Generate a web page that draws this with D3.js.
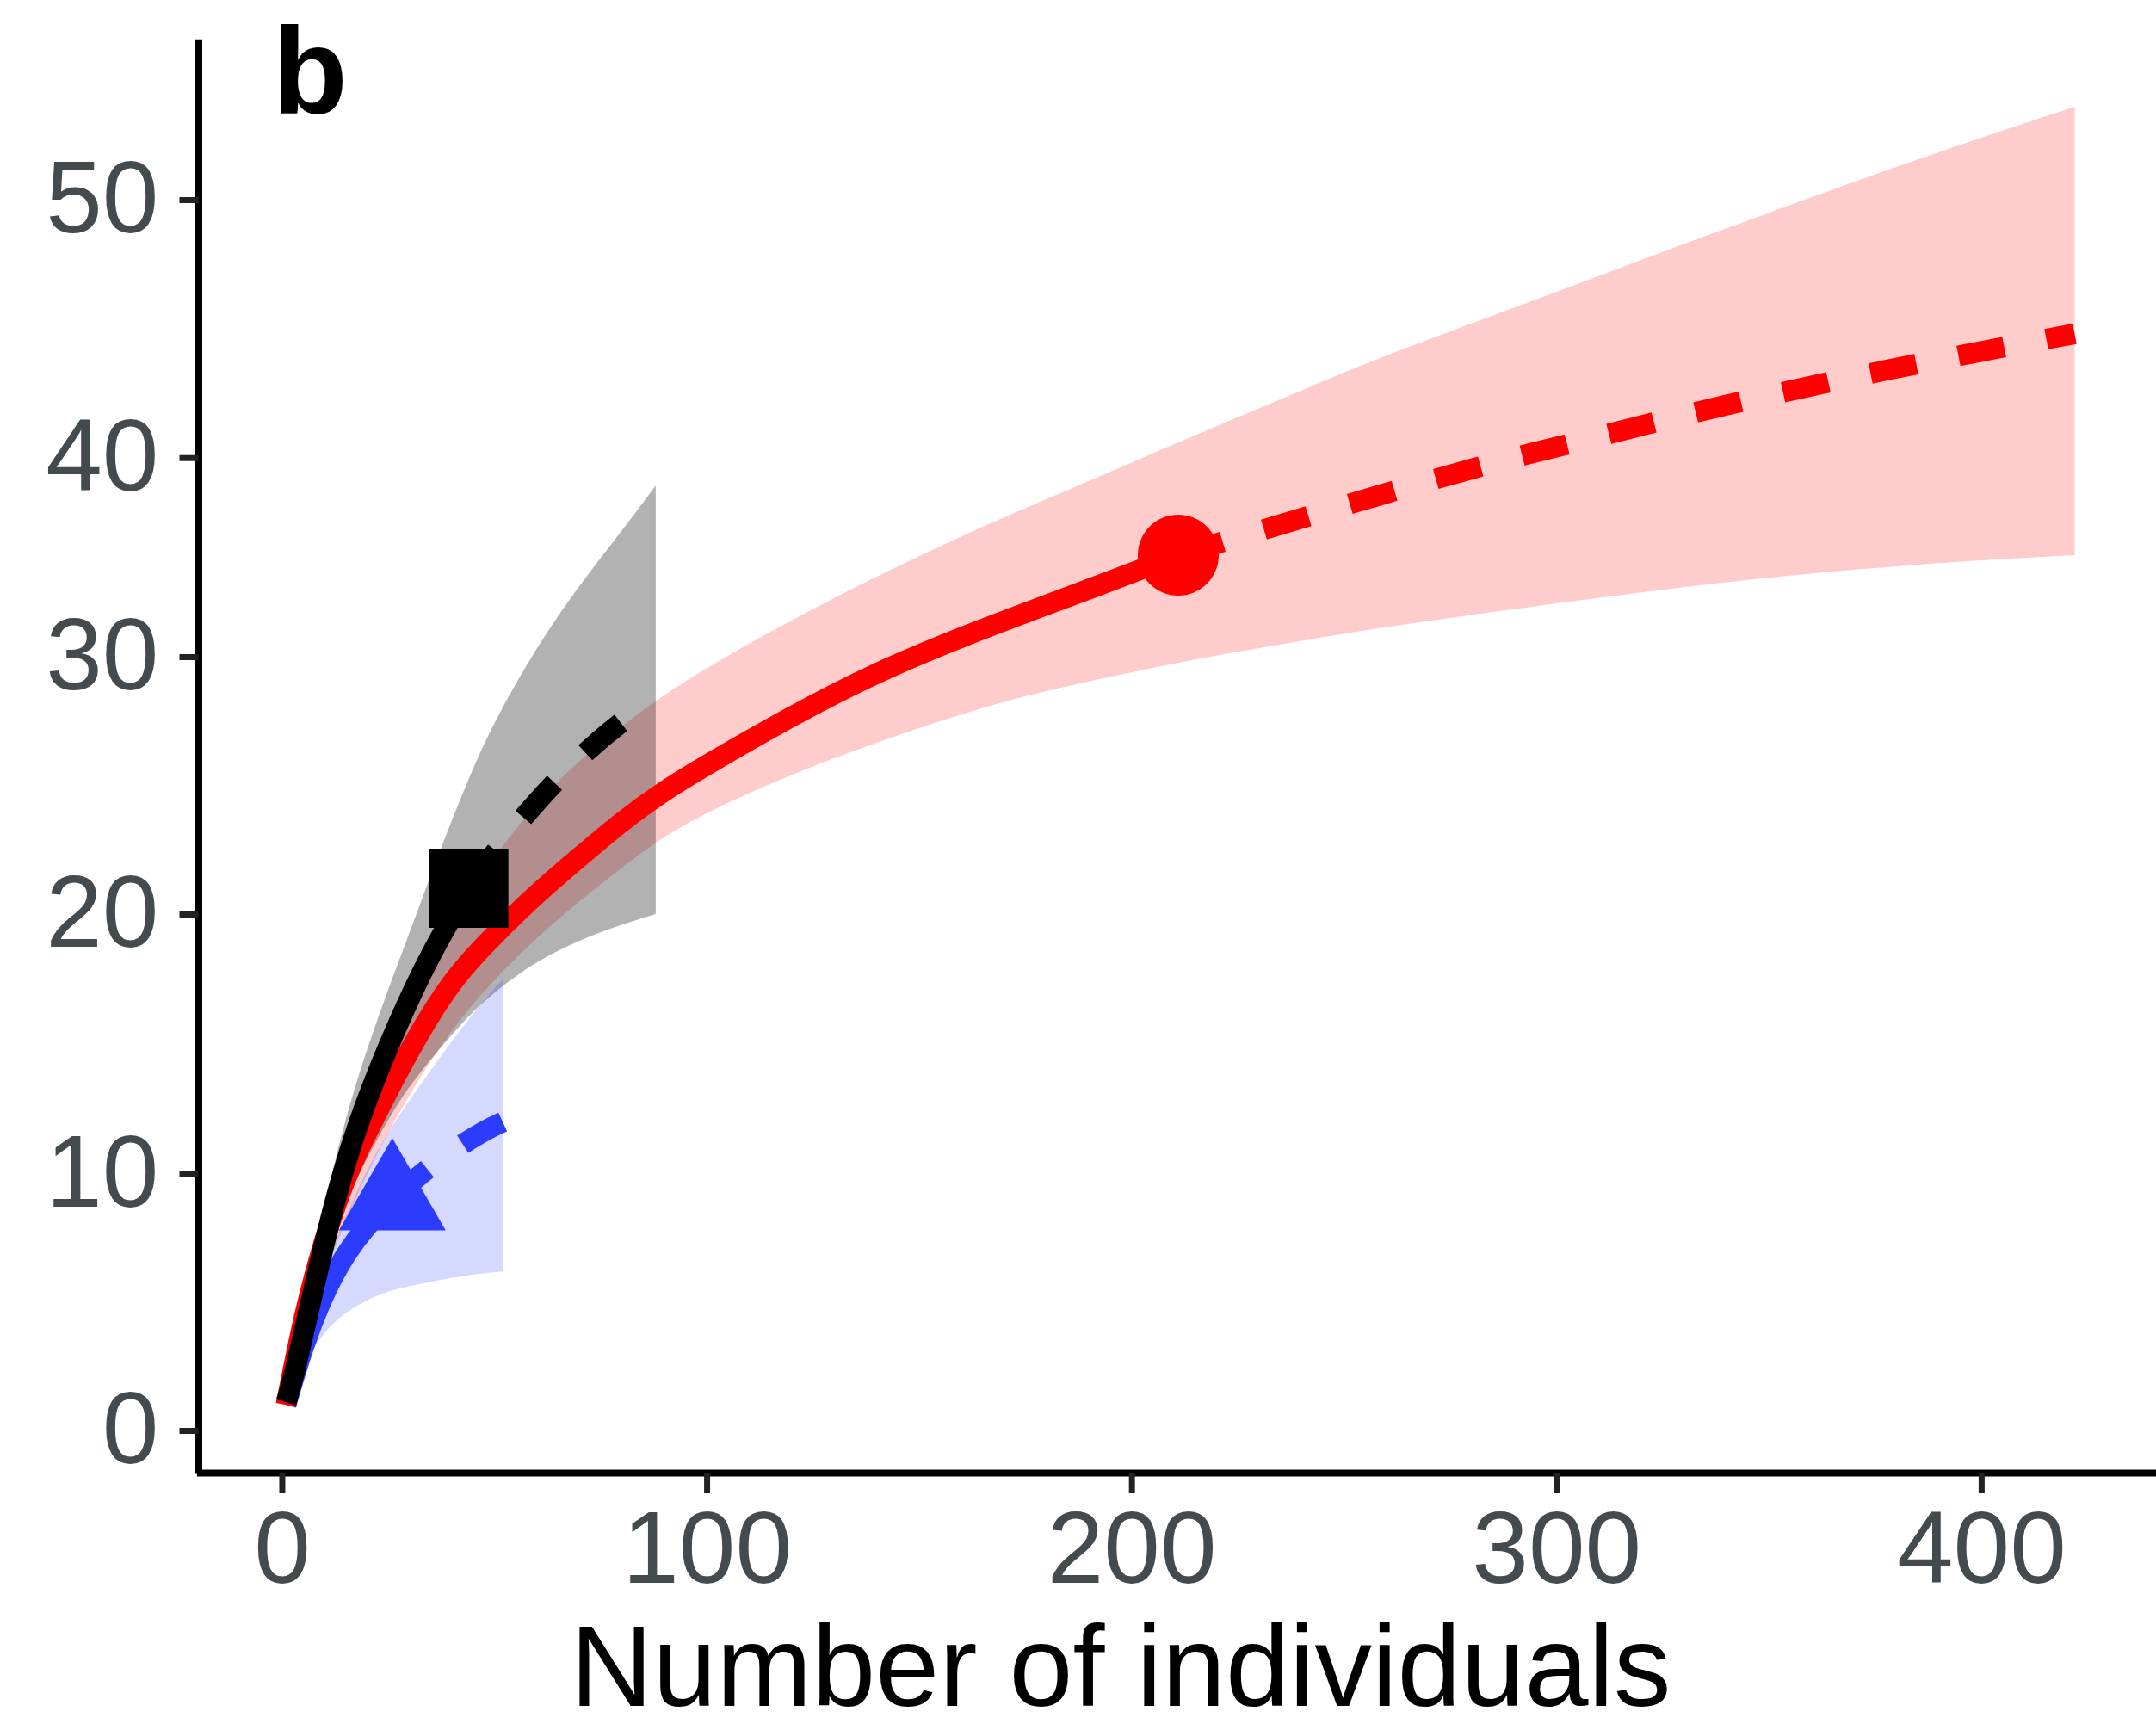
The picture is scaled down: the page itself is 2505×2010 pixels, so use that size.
<!DOCTYPE html>
<html>
<head>
<meta charset="utf-8">
<script src="https://cdn.jsdelivr.net/npm/d3@7/dist/d3.min.js"></script>
<style>
  body { margin: 0; background: #fff; }
  text { font-family: "Liberation Sans", Arial, sans-serif; }
</style>
</head>
<body>
<script>
// red assemblage: rarefied part (solid) and extrapolated part (dashed)
var redObsN = [1, 5, 10, 15, 20, 30, 40, 50, 60, 70, 80, 90, 100, 120, 140, 160, 180, 200, 211];
var redObsS = [1.0, 4.4, 7.5, 9.9, 11.6, 14.8, 17.5, 19.2, 20.8, 22.2, 23.6, 24.8, 25.8, 27.7, 29.4, 31.0, 32.6, 34.2, 35.1];
var redExtN = [211, 222, 250, 284, 300, 338, 380, 422];
var redExtS = [35.1, 35.8, 37.6, 39.7, 40.4, 42.0, 43.5, 44.8];
var redBandN = [1, 5, 10, 20, 30, 40, 50, 60, 70, 80, 88, 100, 128, 160, 180, 211, 240, 257, 290, 322, 350, 387, 422];
var redLo = [1.0, 3.6, 6.2, 10.1, 13.1, 15.6, 17.5, 19.1, 20.5, 21.8, 22.8, 24.0, 26.0, 27.8, 28.7, 29.8, 30.8, 31.4, 32.4, 33.3, 34.0, 34.7, 35.1];
var redHi = [1.0, 5.2, 8.8, 13.4, 17.0, 19.8, 22.3, 24.3, 26.0, 27.3, 28.3, 29.6, 32.8, 36.1, 37.9, 40.6, 42.6, 43.8, 45.8, 47.8, 49.5, 51.7, 53.6];

// black assemblage
var blackObsN = [1, 3, 7, 13, 19, 27, 35, 44];
var blackObsS = [1.1, 2.2, 5.2, 9.4, 12.5, 15.7, 18.5, 21.0];
var blackExtN = [44, 50, 60, 70, 80, 88];
var blackExtS = [21.0, 22.4, 24.4, 26.1, 27.5, 28.4];
var blackBandN = [1, 5, 10, 15, 20, 25, 30, 37, 44, 50, 60, 70, 80, 88];
var blackLo = [1.0, 3.8, 6.8, 8.9, 10.6, 12.1, 13.4, 14.8, 16.1, 17.0, 18.2, 19.0, 19.6, 20.0];
var blackHi = [1.2, 4.6, 8.8, 12.2, 14.8, 17.1, 19.25, 22.4, 25.3, 27.5, 30.5, 33.6, 36.3, 38.6];

// blue assemblage
var blueObsN = [1, 5, 10, 15, 20, 26];
var blueObsS = [1.0, 3.3, 5.4, 6.9, 8.0, 9.0];
var blueExtN = [26, 34, 42, 48, 52];
var blueExtS = [9.0, 10.2, 11.1, 11.7, 12.0];
var blueBandN = [1, 5, 9, 13, 20, 26, 35, 45, 52];
var blueLo = [1.0, 2.6, 3.6, 4.4, 5.1, 5.5, 5.8, 6.1, 6.2];
var blueHi = [1.0, 4.0, 5.9, 7.6, 10.2, 11.9, 14.0, 16.2, 17.5];

var xTicks = [0, 100, 200, 300, 400];
var yTicks = [0, 10, 20, 30, 40, 50];

var red = "#ff0000", black = "#000000", blue = "#2b3cff";

var svg = d3.select("body")
            .append("svg")
            .attr("width", 2505)
            .attr("height", 2010);

var xScale = d3.scaleLinear().domain([-20.05, 443.05]).range([228.5, 2514.4]);
// the y axis of the source image is not evenly spaced, so use a piecewise scale
var yScale = d3.scaleLinear()
               .domain([-1.63, 0, 10, 20, 30, 40, 50, 56.23])
               .range([1711, 1662, 1364, 1062, 763, 531.7, 232, 45.3]);

var line = d3.line()
             .x(function(d) { return xScale(d[0]); })
             .y(function(d) { return yScale(d[1]); })
             .curve(d3.curveBasis);

var band = d3.area()
             .x(function(d) { return xScale(d[0]); })
             .y0(function(d) { return yScale(d[1]); })
             .y1(function(d) { return yScale(d[2]); })
             .curve(d3.curveBasis);

// confidence bands
svg.append("path").attr("d", band(d3.zip(redBandN, redLo, redHi)))
   .attr("fill", red).attr("fill-opacity", 0.2);
svg.append("path").attr("d", band(d3.zip(blackBandN, blackLo, blackHi)))
   .attr("fill", black).attr("fill-opacity", 0.3);
svg.append("path").attr("d", band(d3.zip(blueBandN, blueLo, blueHi)))
   .attr("fill", blue).attr("fill-opacity", 0.2);

function curve(n, s, col, dashed) {
  svg.append("path")
     .attr("d", line(d3.zip(n, s)))
     .attr("fill", "none")
     .attr("stroke", col)
     .attr("stroke-width", 24)
     .attr("stroke-linecap", "butt")
     .attr("stroke-dasharray", dashed ? "54,50" : null);
}

curve(blueObsN, blueObsS, blue, false);
curve(blueExtN, blueExtS, blue, true);
curve(redObsN, redObsS, red, false);
curve(redExtN, redExtS, red, true);
curve(blackObsN, blackObsS, black, false);
curve(blackExtN, blackExtS, black, true);

// observed sample points
function marker(n, s, type, size, col) {
  svg.append("path")
     .attr("d", d3.symbol().type(type).size(size)())
     .attr("transform", "translate(" + xScale(n) + "," + yScale(s) + ")")
     .attr("fill", col);
}
marker(blueObsN[blueObsN.length - 1], blueObsS[blueObsS.length - 1], d3.symbolTriangle, 6658, blue);
marker(redObsN[redObsN.length - 1], redObsS[redObsS.length - 1], d3.symbolCircle, 6940, red);
marker(blackObsN[blackObsN.length - 1], blackObsS[blackObsS.length - 1], d3.symbolSquare, 8464, black);

// axes
var xAxis = svg.append("g")
               .attr("transform", "translate(0," + 1711 + ")")
               .call(d3.axisBottom(xScale).tickValues(xTicks).tickSize(24).tickSizeOuter(0).tickPadding(20));
var yAxis = svg.append("g")
               .attr("transform", "translate(" + 230.5 + ",0)")
               .call(d3.axisLeft(yScale).tickValues(yTicks).tickSize(22).tickSizeOuter(0).tickPadding(24));

[xAxis, yAxis].forEach(function(a) {
  a.select(".domain").attr("stroke", "#000").attr("stroke-width", 8);
  a.selectAll(".tick line").attr("stroke", "#222").attr("stroke-width", 7);
  a.selectAll(".tick text")
   .attr("fill", "#444b4f")
   .style("font-size", "118px")
   .style("font-family", "'Liberation Sans', Arial, sans-serif");
});

// x label
svg.append("text")
   .attr("x", 1302)
   .attr("y", 1982)
   .style("text-anchor", "middle")
   .style("font-size", "133px")
   .attr("fill", "#000")
   .text("Number of individuals");

// panel letter
svg.append("text")
   .attr("x", 317)
   .attr("y", 132)
   .style("font-size", "142px")
   .style("font-weight", "bold")
   .attr("fill", "#000")
   .text("b");
</script>
</body>
</html>
